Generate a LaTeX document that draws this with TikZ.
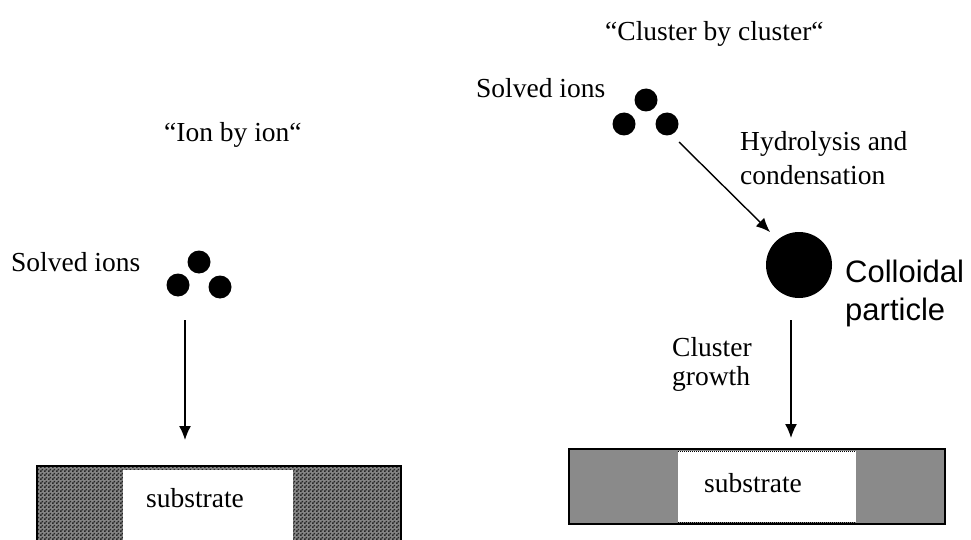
\documentclass[tikz,border=0pt]{standalone}
\usepackage{fontspec}
\setmainfont{Liberation Serif}
\newfontfamily\labelsans{Liberation Sans}
\usetikzlibrary{arrows.meta,patterns}
% fine checkerboard used for the shaded ends of the first substrate
\pgfdeclarepatternformonly{finechecks}{\pgfpointorigin}{\pgfpoint{4pt}{4pt}}{\pgfpoint{4pt}{4pt}}{%
  \pgfpathrectangle{\pgfpointorigin}{\pgfpoint{2pt}{2pt}}%
  \pgfpathrectangle{\pgfpoint{2pt}{2pt}}{\pgfpoint{2pt}{2pt}}%
  \pgfusepath{fill}}
\begin{document}
\begin{tikzpicture}[x=1pt,y=-1pt,
  lbl/.style={font=\fontsize{27.5}{32}\selectfont, inner sep=0pt, anchor=base west},
  ion/.style={circle, fill=black, inner sep=0pt, minimum size=23pt},
  flow/.style={line width=1.4pt, -{Latex[length=14pt,width=12pt]}},
  frame/.style={draw=black, line width=1.5pt},
]
\useasboundingbox (0,0) rectangle (971,540);
\clip (0,0) rectangle (971,540);

% ---------- ion by ion ----------
\node[lbl] (t1) at (164,142) {``Ion by ion``};
\node[lbl] (s1) at (11,271) {Solved ions};
\node[ion] (d1a) at (199,262) {};
\node[ion] (d1b) at (178,285) {};
\node[ion] (d1c) at (220,287) {};
\coordinate (a1s) at (185,320);
\coordinate (a1e) at (185,440);
\draw[flow] (a1s) -- (a1e);

\fill[gray!95] (37,466) rectangle (401,545);
\fill[pattern=finechecks, pattern color=black!85] (37,466) rectangle (401,545);
\draw[frame] (37,545) -- (37,466) -- (401,466) -- (401,545);
\fill[white] (123,470) rectangle (293,545);
\node[lbl, anchor=center] (sub1) at (195,498) {substrate};

% ---------- cluster by cluster ----------
\node[lbl] (t2) at (605,41) {``Cluster by cluster``};
\node[lbl] (s2) at (476,98) {Solved ions};
\node[ion] (d2a) at (646,100) {};
\node[ion] (d2b) at (624,124) {};
\node[ion] (d2c) at (667,124) {};
\coordinate (a2s) at (679,142);
\coordinate (a2e) at (770,232);
\draw[flow] (a2s) -- (a2e);
\node[lbl] (h1) at (740,151) {Hydrolysis and};
\node[lbl] (h2) at (740,185) {condensation};

\node[circle, fill=black, inner sep=0pt, minimum size=66pt] (col) at (799,265) {};
\node[inner sep=0pt, anchor=base west, font=\labelsans\fontsize{31}{36}\selectfont] (c1) at (845,282) {Colloidal};
\node[inner sep=0pt, anchor=base west, font=\labelsans\fontsize{31}{36}\selectfont] (c2) at (845,320) {particle};

\coordinate (a3s) at (791,320);
\coordinate (a3e) at (791,438);
\draw[flow] (a3s) -- (a3e);
\node[lbl] (g1) at (672,356) {Cluster};
\node[lbl] (g2) at (672,385) {growth};

\fill[gray!92] (569,449) rectangle (945,524);
\fill[white] (678,451) rectangle (856,522);
\draw[densely dotted, line width=1pt] (678,451) -- (856,451);
\draw[densely dotted, line width=1pt] (678,522) -- (856,522);
\draw[frame] (569,449) rectangle (945,524);
\node[lbl, anchor=center] (sub2) at (753,483) {substrate};
\end{tikzpicture}
\end{document}
